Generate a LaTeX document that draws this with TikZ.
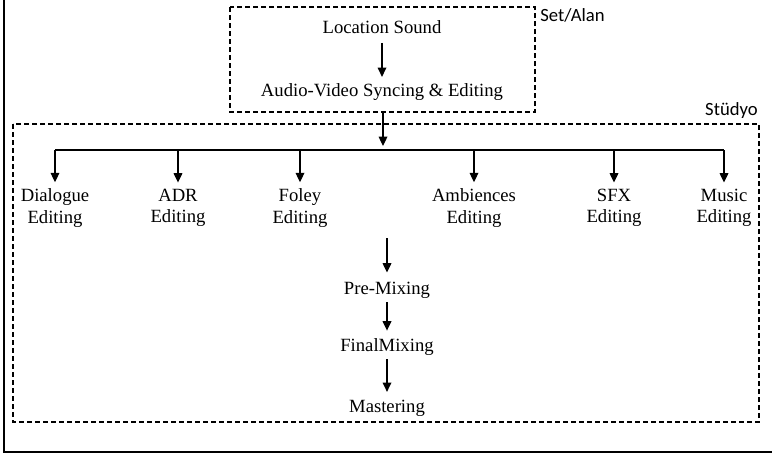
\documentclass[tikz,border=0pt]{standalone}
\usepackage{fontspec}
\setmainfont{Liberation Serif}
\newfontfamily\tagfont{Carlito}
\usetikzlibrary{arrows.meta}

\tikzset{
  lbl/.style={inner sep=0.75pt, align=center, font=\fontsize{14}{16}\selectfont},
  tag/.style={inner sep=0.75pt, font=\tagfont\fontsize{14}{16}\selectfont},
  arr/.style={line width=0.9pt, -{Triangle[length=7pt,width=6.5pt]}},
  dashbox/.style={line width=0.8pt, dash pattern=on 3.5pt off 2.5pt},
}

\begin{document}
\begin{tikzpicture}[x=0.75pt,y=0.75pt,yscale=-1,xscale=1]
\useasboundingbox (0,0) rectangle (772,457);

% outer frame
\draw [line width=1.2pt] (4,-5) -- (4,452) -- (777,452);

% set / alan
\draw [dashbox] (230,7) rectangle (535,112);
\node [tag, anchor=west] (settag) at (539,15) {Set/Alan};
\node [lbl] (loc) at (382,27) {Location Sound};
\node [lbl] (avs) at (382,92) {Audio-Video Syncing \& Editing};
\draw [arr, shorten <=6pt, shorten >=4pt] (loc) -- (avs);

% studyo
\draw [dashbox] (13,124) rectangle (759,422);
\node [tag, anchor=east] (studiotag) at (759,111) {Stüdyo};

\node [lbl] (dlg) at (55,208) {Dialogue\\Editing};
\node [lbl] (adr) at (178,208) {ADR\\Editing};
\node [lbl] (fol) at (300,208) {Foley\\Editing};
\node [lbl] (amb) at (474,208) {Ambiences\\Editing};
\node [lbl] (sfx) at (614,208) {SFX\\Editing};
\node [lbl] (mus) at (724,208) {Music\\Editing};

\coordinate (bus) at (383,150);
\coordinate (avsout) at (383,112);
\draw [arr, shorten >=3pt] (avsout) -- (bus);
\draw [line width=0.9pt] (dlg.north |- bus) -- (mus.north |- bus);
\foreach \n in {dlg,adr,fol,amb,sfx,mus}
  \draw [arr, shorten >=4pt] (\n.north |- bus) -- (\n.north);

% mixing chain
\node [lbl] (pre) at (387,290) {Pre-Mixing};
\node [lbl] (fin) at (387,347) {FinalMixing};
\node [lbl] (mas) at (387,408) {Mastering};
\coordinate (mixin) at (387,238);
\draw [arr, shorten >=6pt] (mixin) -- (pre);
\draw [arr, shorten <=2pt, shorten >=5pt] (pre) -- (fin);
\draw [arr, shorten <=2pt, shorten >=5pt] (fin) -- (mas);

\end{tikzpicture}
\end{document}
